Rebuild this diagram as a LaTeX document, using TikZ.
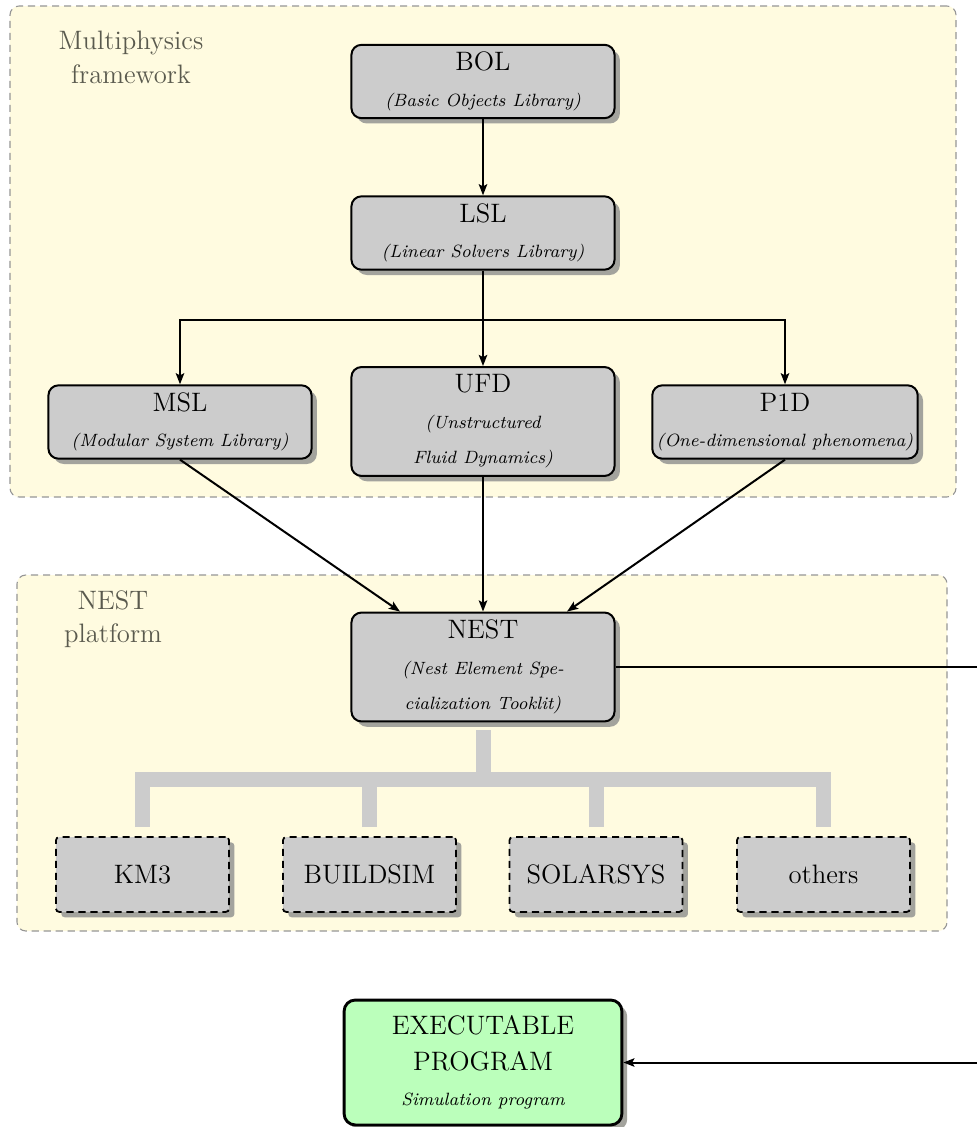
\documentclass[tikz,border=0pt]{standalone}
\usetikzlibrary{arrows.meta,calc,shadows}

\definecolor{framefill}{RGB}{255,251,224}
\definecolor{framedraw}{RGB}{150,150,150}
\definecolor{framelabel}{RGB}{90,90,78}
\definecolor{boxfill}{RGB}{204,204,204}
\definecolor{shadowgray}{RGB}{163,163,157}
\definecolor{exefill}{RGB}{187,255,187}
\definecolor{busgray}{RGB}{204,204,204}

\tikzset{
  frame/.style={draw=framedraw, fill=framefill, dashed, dash pattern=on 3.2pt off 2.2pt,
    line width=0.5pt, rounded corners=4pt, inner sep=0pt},
  framelabel/.style={text=framelabel, align=center, font=\fontsize{12}{15}\selectfont},
  boxshadow/.style={drop shadow={shadow xshift=2.4pt, shadow yshift=-2.4pt,
    fill=shadowgray, opacity=1}},
  modbox/.style={draw=black, fill=boxfill, line width=0.9pt, rounded corners=4.5pt,
    boxshadow, align=center, minimum width=118.4pt, minimum height=33pt, inner sep=2pt,
    font=\fontsize{12}{16}\selectfont},
  tallbox/.style={modbox, minimum height=49pt},
  plugbox/.style={draw=black, fill=boxfill, line width=0.8pt, dashed,
    dash pattern=on 3.2pt off 2.2pt, rounded corners=1.5pt, boxshadow,
    minimum width=77.9pt, minimum height=33.7pt, font=\fontsize{12}{16}\selectfont},
  exebox/.style={draw=black, fill=exefill, line width=1.3pt, rounded corners=5pt,
    boxshadow, align=center, minimum width=125pt, minimum height=56.2pt,
    font=\fontsize{12}{16}\selectfont},
  arr/.style={-{Stealth[length=5pt,width=3.8pt,inset=1pt]}, line width=0.9pt},
  link/.style={line width=0.9pt},
  bus/.style={draw=busgray, line width=6.75pt},
}
\newcommand{\subt}[1]{{\footnotesize\itshape #1}}

\begin{document}
\begin{tikzpicture}[x=0.45pt, y=-0.45pt]
  \useasboundingbox (0,0) rectangle (977,1127);
  \fill[white] (0,0) rectangle (977,1127);

  % framework and platform regions
  \node[frame, minimum width=425.7pt, minimum height=220.9pt] (fwframe) at (483,251.5) {};
  \node[framelabel] (fwlabel) at (131,57.5) {Multiphysics\\framework};
  \node[frame, minimum width=418.5pt, minimum height=160.2pt] (nestframe) at (482,753) {};
  \node[framelabel] (nestlabel) at (113,619.5) {NEST\\platform};

  % libraries
  \node[modbox] (BOL) at (483,81.5) {BOL\\\subt{(Basic Objects Library)}};
  \node[modbox] (LSL) at (483,233) {LSL\\\subt{(Linear Solvers Library)}};
  \node[modbox] (MSL) at (180,422) {MSL\\\subt{(Modular System Library)}};
  \node[tallbox] (UFD) at (483,421.5) {UFD\\\subt{(Unstructured}\\\subt{Fluid Dynamics)}};
  \node[modbox] (P1D) at (785,422) {P1D\\\subt{(One-dimensional phenomena)}};
  \node[tallbox] (NEST) at (483,667) {NEST\\\subt{(Nest Element Spe-}\\\subt{cialization Tooklit)}};

  % applications built on NEST
  \node[plugbox] (KM3) at (142.5,874.5) {KM3};
  \node[plugbox] (BUILDSIM) at (369.5,874.5) {BUILDSIM};
  \node[plugbox] (SOLARSYS) at (596,874.5) {SOLARSYS};
  \node[plugbox] (others) at (823.5,874.5) {others};

  % final product
  \node[exebox] (EXE) at (483,1062.5) {EXECUTABLE\\PROGRAM\\\subt{Simulation program}};

  % dependency arrows
  \draw[arr] (BOL) -- (LSL);
  \coordinate (split) at (483,320);
  \draw[link] (LSL.south) -- (split);
  \draw[arr] (split) -| (MSL.north);
  \draw[arr] (split) -| (P1D.north);
  \draw[arr] (split) -- (UFD.north);

  \coordinate (nestin1) at ($(NEST.north)+(-83,0)$);
  \coordinate (nestin2) at ($(NEST.north)+(84,0)$);
  \draw[arr] (MSL.south) -- (nestin1);
  \draw[arr] (UFD.south) -- (NEST.north);
  \draw[arr] (P1D.south) -- (nestin2);

  \coordinate (loopout) at ($(NEST.east)+(420,0)$);
  \draw[arr] (NEST.east) -- (loopout) |- (EXE.east);

  % NEST specialisation bus
  \coordinate (busrow) at (0,779.5);
  \draw[bus] ($(KM3.north)+(0,-9)$) -- (KM3.north |- busrow)
    -- (others.north |- busrow) -- ($(others.north)+(0,-9)$);
  \draw[bus] ($(NEST.south)+(0,8)$) -- (NEST.south |- busrow);
  \draw[bus] ($(BUILDSIM.north)+(0,-9)$) -- (BUILDSIM.north |- busrow);
  \draw[bus] ($(SOLARSYS.north)+(0,-9)$) -- (SOLARSYS.north |- busrow);
\end{tikzpicture}
\end{document}
